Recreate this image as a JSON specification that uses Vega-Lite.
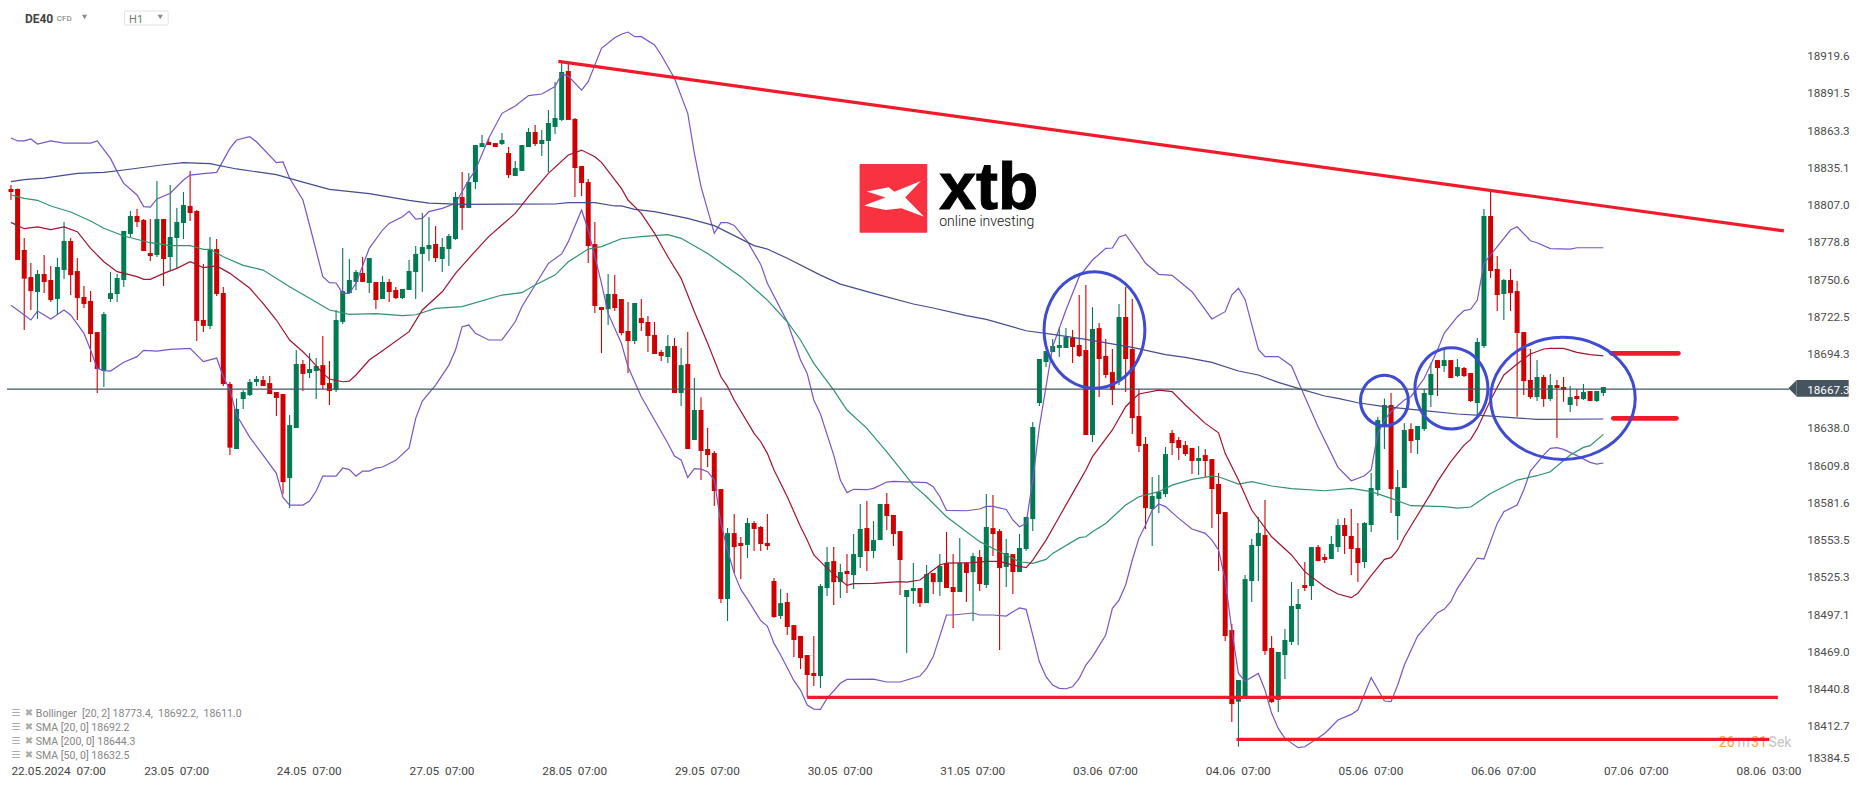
{
"$schema":"https://vega.github.io/schema/vega-lite/v6.json",
"width":1800,"height":765,"padding":{"left":0,"top":0,"right":66,"bottom":22},"autosize":{"type":"none"},"background":"white",
"config":{"view":{"stroke":null},"font":"Roboto"},
"datasets":{
"candles":[
{"i":0,"o":18818.7,"h":18821.8,"l":18810.4,"c":18816.5},{"i":1,"o":18818.7,"h":18819.2,"l":18765.0,"c":18765.0},{"i":2,"o":18772.6,"h":18781.7,"l":18712.0,"c":18750.9},{"i":3,"o":18752.1,"h":18762.7,"l":18727.2,"c":18741.5},{"i":4,"o":18740.8,"h":18757.4,"l":18720.4,"c":18754.4},{"i":5,"o":18754.4,"h":18768.8,"l":18740.0,"c":18748.4},{"i":6,"o":18749.9,"h":18760.5,"l":18733.2,"c":18734.7},{"i":7,"o":18735.5,"h":18766.5,"l":18723.4,"c":18759.7},{"i":8,"o":18757.4,"h":18793.8,"l":18750.6,"c":18779.4},{"i":9,"o":18779.4,"h":18781.7,"l":18738.5,"c":18753.6},
{"i":10,"o":18756.7,"h":18766.5,"l":18719.6,"c":18736.2},{"i":11,"o":18737.0,"h":18745.3,"l":18728.7,"c":18731.7},{"i":12,"o":18734.0,"h":18741.5,"l":18687.8,"c":18709.0},{"i":13,"o":18710.5,"h":18710.5,"l":18664.4,"c":18682.5},{"i":14,"o":18681.0,"h":18725.6,"l":18668.9,"c":18724.1},{"i":15,"o":18735.5,"h":18755.9,"l":18733.2,"c":18740.0},{"i":16,"o":18739.3,"h":18754.4,"l":18733.2,"c":18751.4},{"i":17,"o":18749.9,"h":18787.0,"l":18744.6,"c":18787.0},{"i":18,"o":18784.7,"h":18802.1,"l":18782.4,"c":18798.3},{"i":19,"o":18798.3,"h":18803.6,"l":18790.0,"c":18793.8},
{"i":20,"o":18795.3,"h":18796.0,"l":18771.8,"c":18771.8},{"i":21,"o":18770.3,"h":18796.0,"l":18764.3,"c":18768.0},{"i":22,"o":18768.8,"h":18824.8,"l":18767.3,"c":18796.0},{"i":23,"o":18796.0,"h":18796.0,"l":18745.3,"c":18765.8},{"i":24,"o":18767.3,"h":18821.8,"l":18756.7,"c":18782.4},{"i":25,"o":18781.7,"h":18804.4,"l":18758.9,"c":18793.8},{"i":26,"o":18793.0,"h":18816.5,"l":18780.9,"c":18806.6},{"i":27,"o":18805.9,"h":18832.4,"l":18794.5,"c":18800.6},{"i":28,"o":18802.1,"h":18802.8,"l":18703.7,"c":18718.9},{"i":29,"o":18719.6,"h":18762.0,"l":18710.5,"c":18715.1},
{"i":30,"o":18715.1,"h":18782.4,"l":18712.8,"c":18773.3},{"i":31,"o":18773.3,"h":18780.9,"l":18737.8,"c":18739.3},{"i":32,"o":18740.0,"h":18744.6,"l":18669.7,"c":18671.2},{"i":33,"o":18671.2,"h":18672.7,"l":18617.4,"c":18623.0},{"i":34,"o":18622.0,"h":18660.3,"l":18622.0,"c":18652.3},{"i":35,"o":18659.8,"h":18666.6,"l":18652.3,"c":18665.1},{"i":36,"o":18662.8,"h":18675.0,"l":18662.1,"c":18672.7},{"i":37,"o":18672.7,"h":18677.2,"l":18669.7,"c":18675.0},{"i":38,"o":18674.2,"h":18677.2,"l":18669.7,"c":18669.7},{"i":39,"o":18671.9,"h":18677.2,"l":18663.6,"c":18663.6},
{"i":40,"o":18665.1,"h":18665.1,"l":18647.0,"c":18660.6},{"i":41,"o":18663.6,"h":18663.6,"l":18587.9,"c":18597.0},{"i":42,"o":18600.0,"h":18647.7,"l":18577.3,"c":18640.1},{"i":43,"o":18637.9,"h":18696.9,"l":18637.9,"c":18686.3},{"i":44,"o":18686.3,"h":18689.3,"l":18665.9,"c":18678.8},{"i":45,"o":18679.5,"h":18694.6,"l":18675.7,"c":18682.5},{"i":46,"o":18681.0,"h":18690.8,"l":18659.8,"c":18684.8},{"i":47,"o":18685.5,"h":18707.5,"l":18667.4,"c":18670.4},{"i":48,"o":18671.9,"h":18688.6,"l":18655.3,"c":18665.9},{"i":49,"o":18666.6,"h":18727.2,"l":18665.1,"c":18719.6},
{"i":50,"o":18718.1,"h":18774.1,"l":18716.6,"c":18741.5},{"i":51,"o":18740.0,"h":18765.8,"l":18739.3,"c":18749.9},{"i":52,"o":18748.4,"h":18757.4,"l":18742.3,"c":18755.9},{"i":53,"o":18755.2,"h":18767.3,"l":18748.4,"c":18748.4},{"i":54,"o":18747.6,"h":18766.5,"l":18740.0,"c":18766.5},{"i":55,"o":18748.4,"h":18748.4,"l":18727.9,"c":18734.7},{"i":56,"o":18735.5,"h":18752.9,"l":18735.5,"c":18748.4},{"i":57,"o":18748.4,"h":18750.6,"l":18733.2,"c":18740.8},{"i":58,"o":18742.3,"h":18744.6,"l":18735.5,"c":18736.2},{"i":59,"o":18736.2,"h":18743.1,"l":18735.5,"c":18743.1},
{"i":60,"o":18742.3,"h":18765.0,"l":18742.3,"c":18756.7},{"i":61,"o":18755.9,"h":18775.6,"l":18735.5,"c":18769.6},{"i":62,"o":18769.6,"h":18800.6,"l":18740.8,"c":18774.9},{"i":63,"o":18773.3,"h":18797.5,"l":18764.3,"c":18776.4},{"i":64,"o":18777.1,"h":18790.7,"l":18763.5,"c":18766.5},{"i":65,"o":18765.8,"h":18781.7,"l":18755.9,"c":18774.9},{"i":66,"o":18773.3,"h":18784.7,"l":18760.5,"c":18783.2},{"i":67,"o":18780.9,"h":18816.5,"l":18780.1,"c":18812.7},{"i":68,"o":18812.7,"h":18831.6,"l":18787.7,"c":18804.4},{"i":69,"o":18804.4,"h":18830.8,"l":18804.4,"c":18824.0},
{"i":70,"o":18824.0,"h":18852.0,"l":18818.7,"c":18852.0},{"i":71,"o":18850.5,"h":18859.6,"l":18850.5,"c":18853.5},{"i":72,"o":18854.3,"h":18857.3,"l":18852.0,"c":18852.0},{"i":73,"o":18853.5,"h":18853.5,"l":18850.5,"c":18850.5},{"i":74,"o":18852.8,"h":18861.1,"l":18852.0,"c":18855.8},{"i":75,"o":18846.0,"h":18850.5,"l":18827.0,"c":18829.3},{"i":76,"o":18828.6,"h":18839.9,"l":18828.6,"c":18834.6},{"i":77,"o":18832.4,"h":18852.0,"l":18832.4,"c":18852.0},{"i":78,"o":18850.5,"h":18864.9,"l":18850.5,"c":18861.9},{"i":79,"o":18861.9,"h":18867.2,"l":18851.3,"c":18852.8},
{"i":80,"o":18852.8,"h":18863.4,"l":18843.7,"c":18855.8},{"i":81,"o":18855.1,"h":18878.5,"l":18831.6,"c":18868.7},{"i":82,"o":18865.7,"h":18899.7,"l":18860.4,"c":18872.5},{"i":83,"o":18871.0,"h":18914.8,"l":18870.2,"c":18907.3},{"i":84,"o":18908.0,"h":18913.3,"l":18871.0,"c":18871.0},{"i":85,"o":18871.7,"h":18872.5,"l":18812.7,"c":18834.6},{"i":86,"o":18836.1,"h":18836.1,"l":18813.4,"c":18823.3},{"i":87,"o":18824.0,"h":18826.3,"l":18762.7,"c":18775.6},{"i":88,"o":18777.1,"h":18793.8,"l":18724.9,"c":18730.2},{"i":89,"o":18729.4,"h":18729.4,"l":18694.6,"c":18727.2},
{"i":90,"o":18727.9,"h":18754.4,"l":18715.8,"c":18739.3},{"i":91,"o":18739.3,"h":18753.6,"l":18726.4,"c":18728.7},{"i":92,"o":18735.5,"h":18735.5,"l":18708.0,"c":18709.8},{"i":93,"o":18711.3,"h":18733.2,"l":18679.5,"c":18703.7},{"i":94,"o":18703.7,"h":18732.5,"l":18701.4,"c":18732.5},{"i":95,"o":18721.1,"h":18735.5,"l":18711.3,"c":18717.3},{"i":96,"o":18718.1,"h":18722.6,"l":18695.4,"c":18707.5},{"i":97,"o":18708.3,"h":18718.1,"l":18693.9,"c":18693.9},{"i":98,"o":18695.4,"h":18696.9,"l":18688.6,"c":18692.4},{"i":99,"o":18691.6,"h":18708.3,"l":18687.1,"c":18699.9},
{"i":100,"o":18699.9,"h":18706.0,"l":18664.4,"c":18664.4},{"i":101,"o":18664.4,"h":18698.4,"l":18654.5,"c":18685.5},{"i":102,"o":18686.3,"h":18710.5,"l":18622.0,"c":18622.0},{"i":103,"o":18628.8,"h":18675.7,"l":18628.8,"c":18651.5},{"i":104,"o":18651.5,"h":18661.1,"l":18598.5,"c":18620.5},{"i":105,"o":18622.0,"h":18637.9,"l":18608.4,"c":18617.4},{"i":106,"o":18619.0,"h":18620.5,"l":18578.9,"c":18590.2},{"i":107,"o":18591.7,"h":18591.7,"l":18505.4,"c":18508.5},{"i":108,"o":18508.5,"h":18562.2,"l":18491.8,"c":18558.4},{"i":109,"o":18558.4,"h":18572.8,"l":18528.2,"c":18547.8},
{"i":110,"o":18550.9,"h":18555.4,"l":18523.6,"c":18548.6},{"i":111,"o":18549.4,"h":18569.8,"l":18539.5,"c":18566.0},{"i":112,"o":18566.0,"h":18567.5,"l":18544.8,"c":18561.5},{"i":113,"o":18563.0,"h":18563.7,"l":18544.8,"c":18550.1},{"i":114,"o":18550.9,"h":18572.8,"l":18545.6,"c":18548.6},{"i":115,"o":18522.1,"h":18524.4,"l":18494.1,"c":18494.9},{"i":116,"o":18495.6,"h":18516.0,"l":18493.3,"c":18505.4},{"i":117,"o":18506.2,"h":18513.0,"l":18481.2,"c":18487.3},{"i":118,"o":18488.8,"h":18488.8,"l":18464.6,"c":18477.5},{"i":119,"o":18480.5,"h":18480.5,"l":18455.5,"c":18463.8},
{"i":120,"o":18466.1,"h":18466.1,"l":18434.3,"c":18451.0},{"i":121,"o":18452.5,"h":18480.5,"l":18442.6,"c":18450.2},{"i":122,"o":18450.2,"h":18519.8,"l":18441.1,"c":18518.3},{"i":123,"o":18516.8,"h":18547.8,"l":18510.8,"c":18536.5},{"i":124,"o":18537.2,"h":18547.8,"l":18504.0,"c":18521.3},{"i":125,"o":18521.3,"h":18535.0,"l":18509.2,"c":18528.9},{"i":126,"o":18529.7,"h":18542.5,"l":18513.0,"c":18527.4},{"i":127,"o":18526.6,"h":18557.7,"l":18516.0,"c":18542.5},{"i":128,"o":18540.3,"h":18580.4,"l":18531.9,"c":18561.5},{"i":129,"o":18562.2,"h":18582.6,"l":18529.7,"c":18544.8},
{"i":130,"o":18544.8,"h":18567.5,"l":18539.5,"c":18553.1},{"i":131,"o":18553.1,"h":18580.4,"l":18553.1,"c":18580.4},{"i":132,"o":18580.4,"h":18588.7,"l":18560.7,"c":18571.3},{"i":133,"o":18572.1,"h":18572.1,"l":18548.6,"c":18557.7},{"i":134,"o":18559.9,"h":18559.9,"l":18511.5,"c":18538.0},{"i":135,"o":18510.0,"h":18515.3,"l":18467.6,"c":18515.3},{"i":136,"o":18514.5,"h":18535.7,"l":18504.7,"c":18516.8},{"i":137,"o":18516.8,"h":18516.8,"l":18502.4,"c":18505.4},{"i":138,"o":18505.4,"h":18534.2,"l":18505.4,"c":18527.4},{"i":139,"o":18528.2,"h":18528.2,"l":18512.3,"c":18521.3},
{"i":140,"o":18521.3,"h":18542.5,"l":18510.8,"c":18533.5},{"i":141,"o":18535.7,"h":18559.2,"l":18516.8,"c":18516.8},{"i":142,"o":18517.6,"h":18542.5,"l":18486.5,"c":18513.8},{"i":143,"o":18513.8,"h":18554.6,"l":18513.8,"c":18535.7},{"i":144,"o":18535.7,"h":18536.5,"l":18506.2,"c":18528.2},{"i":145,"o":18528.9,"h":18543.3,"l":18491.8,"c":18541.0},{"i":146,"o":18540.3,"h":18545.6,"l":18514.5,"c":18519.8},{"i":147,"o":18519.1,"h":18587.9,"l":18516.8,"c":18563.0},{"i":148,"o":18562.2,"h":18587.2,"l":18541.0,"c":18557.7},{"i":149,"o":18559.9,"h":18561.5,"l":18469.9,"c":18531.9},
{"i":150,"o":18532.7,"h":18553.9,"l":18517.6,"c":18543.3},{"i":151,"o":18542.5,"h":18542.5,"l":18512.3,"c":18528.9},{"i":152,"o":18528.9,"h":18557.7,"l":18528.9,"c":18547.1},{"i":153,"o":18546.3,"h":18570.5,"l":18544.8,"c":18570.5},{"i":154,"o":18569.0,"h":18642.4,"l":18559.9,"c":18638.6},{"i":155,"o":18656.8,"h":18690.1,"l":18654.5,"c":18690.1},{"i":156,"o":18687.8,"h":18696.1,"l":18684.0,"c":18696.1},{"i":157,"o":18695.4,"h":18705.2,"l":18695.4,"c":18699.9},{"i":158,"o":18698.4,"h":18714.3,"l":18691.6,"c":18700.7},{"i":159,"o":18698.4,"h":18713.5,"l":18698.4,"c":18706.7},
{"i":160,"o":18706.0,"h":18712.0,"l":18687.1,"c":18699.2},{"i":161,"o":18700.7,"h":18738.5,"l":18691.6,"c":18692.4},{"i":162,"o":18696.9,"h":18746.1,"l":18632.6,"c":18632.6},{"i":163,"o":18632.6,"h":18729.4,"l":18627.3,"c":18712.8},{"i":164,"o":18713.5,"h":18717.3,"l":18661.3,"c":18690.1},{"i":165,"o":18692.4,"h":18705.2,"l":18675.7,"c":18678.0},{"i":166,"o":18680.2,"h":18697.7,"l":18655.3,"c":18666.6},{"i":167,"o":18674.2,"h":18731.7,"l":18670.4,"c":18721.9},{"i":168,"o":18721.9,"h":18744.6,"l":18665.1,"c":18690.1},{"i":169,"o":18697.7,"h":18735.5,"l":18633.3,"c":18645.4},
{"i":170,"o":18647.0,"h":18667.4,"l":18619.7,"c":18624.3},{"i":171,"o":18625.8,"h":18631.1,"l":18561.5,"c":18577.3},{"i":172,"o":18576.6,"h":18600.8,"l":18548.6,"c":18586.4},{"i":173,"o":18584.2,"h":18602.3,"l":18573.5,"c":18589.5},{"i":174,"o":18587.9,"h":18623.5,"l":18585.7,"c":18618.2},{"i":175,"o":18634.1,"h":18636.4,"l":18617.4,"c":18626.5},{"i":176,"o":18628.8,"h":18631.1,"l":18613.7,"c":18622.8},{"i":177,"o":18625.0,"h":18628.0,"l":18616.7,"c":18618.2},{"i":178,"o":18622.8,"h":18622.8,"l":18603.1,"c":18612.9},{"i":179,"o":18612.9,"h":18624.3,"l":18602.3,"c":18615.2},
{"i":180,"o":18617.4,"h":18622.0,"l":18600.8,"c":18612.9},{"i":181,"o":18614.4,"h":18614.4,"l":18562.2,"c":18591.7},{"i":182,"o":18595.5,"h":18603.8,"l":18529.7,"c":18572.8},{"i":183,"o":18574.3,"h":18574.3,"l":18476.7,"c":18480.5},{"i":184,"o":18485.0,"h":18489.6,"l":18415.4,"c":18429.0},{"i":185,"o":18430.8,"h":18447.2,"l":18396.7,"c":18447.2},{"i":186,"o":18434.6,"h":18526.6,"l":18433.3,"c":18523.6},{"i":187,"o":18522.1,"h":18553.9,"l":18506.2,"c":18549.4},{"i":188,"o":18548.6,"h":18570.5,"l":18522.1,"c":18558.4},{"i":189,"o":18556.9,"h":18583.4,"l":18466.1,"c":18469.1},
{"i":190,"o":18471.4,"h":18480.5,"l":18429.8,"c":18430.5},{"i":191,"o":18432.1,"h":18468.4,"l":18423.0,"c":18468.4},{"i":192,"o":18466.1,"h":18485.8,"l":18447.9,"c":18477.5},{"i":193,"o":18476.0,"h":18521.3,"l":18473.7,"c":18503.2},{"i":194,"o":18500.9,"h":18516.0,"l":18473.7,"c":18504.7},{"i":195,"o":18519.1,"h":18536.5,"l":18514.5,"c":18516.8},{"i":196,"o":18518.3,"h":18547.8,"l":18507.7,"c":18547.8},{"i":197,"o":18547.8,"h":18549.4,"l":18537.2,"c":18537.2},{"i":198,"o":18540.3,"h":18542.5,"l":18535.7,"c":18538.0},{"i":199,"o":18538.8,"h":18556.2,"l":18538.8,"c":18550.1},
{"i":200,"o":18547.8,"h":18569.0,"l":18544.0,"c":18564.5},{"i":201,"o":18564.5,"h":18569.8,"l":18542.5,"c":18556.2},{"i":202,"o":18556.2,"h":18576.6,"l":18526.6,"c":18546.3},{"i":203,"o":18547.1,"h":18566.0,"l":18521.3,"c":18535.7},{"i":204,"o":18536.5,"h":18566.7,"l":18531.9,"c":18566.0},{"i":205,"o":18564.5,"h":18603.8,"l":18559.2,"c":18592.5},{"i":206,"o":18591.0,"h":18646.5,"l":18586.4,"c":18643.9},{"i":207,"o":18638.9,"h":18660.3,"l":18622.0,"c":18655.3},{"i":208,"o":18655.3,"h":18664.4,"l":18573.5,"c":18591.7},{"i":209,"o":18571.3,"h":18606.1,"l":18553.1,"c":18593.2},
{"i":210,"o":18592.5,"h":18641.4,"l":18592.5,"c":18636.4},{"i":211,"o":18637.1,"h":18641.4,"l":18619.0,"c":18628.0},{"i":212,"o":18628.8,"h":18639.4,"l":18618.2,"c":18639.4},{"i":213,"o":18637.1,"h":18667.4,"l":18635.6,"c":18664.4},{"i":214,"o":18662.8,"h":18687.1,"l":18653.8,"c":18678.8},{"i":215,"o":18689.3,"h":18689.3,"l":18662.1,"c":18683.3},{"i":216,"o":18684.8,"h":18696.9,"l":18680.2,"c":18689.3},{"i":217,"o":18689.3,"h":18689.3,"l":18675.7,"c":18675.7},{"i":218,"o":18677.2,"h":18690.1,"l":18676.5,"c":18684.0},{"i":219,"o":18683.3,"h":18684.0,"l":18676.5,"c":18677.2},
{"i":220,"o":18679.5,"h":18679.5,"l":18657.5,"c":18658.3},{"i":221,"o":18656.8,"h":18706.0,"l":18647.7,"c":18703.0},{"i":222,"o":18699.9,"h":18803.6,"l":18698.4,"c":18798.3},{"i":223,"o":18798.3,"h":18818.7,"l":18751.4,"c":18756.7},{"i":224,"o":18758.2,"h":18768.0,"l":18726.4,"c":18738.5},{"i":225,"o":18739.3,"h":18750.6,"l":18719.6,"c":18749.9},{"i":226,"o":18749.9,"h":18758.2,"l":18726.4,"c":18740.0},{"i":227,"o":18741.5,"h":18749.1,"l":18646.5,"c":18709.8},{"i":228,"o":18710.5,"h":18710.5,"l":18662.8,"c":18673.4},{"i":229,"o":18674.2,"h":18697.7,"l":18659.8,"c":18661.3},
{"i":230,"o":18661.3,"h":18689.3,"l":18658.3,"c":18676.5},{"i":231,"o":18676.5,"h":18678.0,"l":18654.0,"c":18659.8},{"i":232,"o":18659.8,"h":18678.8,"l":18658.3,"c":18670.4},{"i":233,"o":18670.4,"h":18674.2,"l":18630.3,"c":18668.2},{"i":234,"o":18668.9,"h":18676.5,"l":18657.8,"c":18666.6},{"i":235,"o":18655.3,"h":18669.7,"l":18650.0,"c":18661.3},{"i":236,"o":18662.1,"h":18667.4,"l":18654.5,"c":18659.8},{"i":237,"o":18659.8,"h":18671.2,"l":18659.1,"c":18665.1},{"i":238,"o":18665.9,"h":18665.9,"l":18658.3,"c":18658.3},{"i":239,"o":18658.3,"h":18665.9,"l":18657.5,"c":18665.9},
{"i":240,"o":18664.4,"h":18668.9,"l":18662.1,"c":18668.9}
],
"lines":[
{"s":"bbU","i":0,"p":18857.3},{"s":"bbU","i":1,"p":18855.1},{"s":"bbU","i":2,"p":18855.1},{"s":"bbU","i":3,"p":18856.6},{"s":"bbU","i":4,"p":18852.8},{"s":"bbU","i":6,"p":18855.1},{"s":"bbU","i":8,"p":18853.5},{"s":"bbU","i":12,"p":18853.5},{"s":"bbU","i":13,"p":18855.1},{"s":"bbU","i":15,"p":18841.9},{"s":"bbU","i":16,"p":18831.9},{"s":"bbU","i":17,"p":18823.0},{"s":"bbU","i":19,"p":18814.2},{"s":"bbU","i":20,"p":18805.4},{"s":"bbU","i":21,"p":18805.1},{"s":"bbU","i":22,"p":18811.2},{"s":"bbU","i":24,"p":18815.5},{"s":"bbU","i":26,"p":18825.5},{"s":"bbU","i":27,"p":18829.3},{"s":"bbU","i":29,"p":18830.3},{"s":"bbU","i":31,"p":18831.3},{"s":"bbU","i":33,"p":18849.5},{"s":"bbU","i":34,"p":18855.8},{"s":"bbU","i":36,"p":18858.3},{"s":"bbU","i":37,"p":18854.5},{"s":"bbU","i":40,"p":18838.7},{"s":"bbU","i":41,"p":18839.2},{"s":"bbU","i":42,"p":18826.8},{"s":"bbU","i":44,"p":18810.4},{"s":"bbU","i":45,"p":18791.5},{"s":"bbU","i":47,"p":18752.4},{"s":"bbU","i":48,"p":18747.9},{"s":"bbU","i":49,"p":18747.6},{"s":"bbU","i":50,"p":18739.8},{"s":"bbU","i":51,"p":18739.8},{"s":"bbU","i":52,"p":18747.4},{"s":"bbU","i":54,"p":18773.8},{"s":"bbU","i":56,"p":18787.7},{"s":"bbU","i":57,"p":18792.7},{"s":"bbU","i":59,"p":18797.8},{"s":"bbU","i":60,"p":18801.8},{"s":"bbU","i":61,"p":18796.0},{"s":"bbU","i":62,"p":18796.5},{"s":"bbU","i":63,"p":18801.6},{"s":"bbU","i":65,"p":18804.1},{"s":"bbU","i":67,"p":18807.9},{"s":"bbU","i":69,"p":18825.5},{"s":"bbU","i":70,"p":18833.1},{"s":"bbU","i":72,"p":18857.1},{"s":"bbU","i":74,"p":18876.0},{"s":"bbU","i":76,"p":18881.5},{"s":"bbU","i":78,"p":18889.4},{"s":"bbU","i":80,"p":18890.6},{"s":"bbU","i":82,"p":18896.2},{"s":"bbU","i":83,"p":18905.8},{"s":"bbU","i":84,"p":18904.2},{"s":"bbU","i":86,"p":18893.6},{"s":"bbU","i":87,"p":18900.0},{"s":"bbU","i":89,"p":18925.2},{"s":"bbU","i":91,"p":18933.2},{"s":"bbU","i":92,"p":18935.8},{"s":"bbU","i":93,"p":18937.5},{"s":"bbU","i":94,"p":18934.0},{"s":"bbU","i":95,"p":18934.0},{"s":"bbU","i":97,"p":18927.7},{"s":"bbU","i":98,"p":18920.1},{"s":"bbU","i":100,"p":18902.5},{"s":"bbU","i":102,"p":18876.0},{"s":"bbU","i":103,"p":18845.7},{"s":"bbU","i":104,"p":18820.5},{"s":"bbU","i":106,"p":18785.2},{"s":"bbU","i":107,"p":18793.3},{"s":"bbU","i":108,"p":18793.3},{"s":"bbU","i":109,"p":18791.2},{"s":"bbU","i":111,"p":18778.9},{"s":"bbU","i":113,"p":18761.7},{"s":"bbU","i":114,"p":18747.4},{"s":"bbU","i":117,"p":18718.3},{"s":"bbU","i":119,"p":18689.3},{"s":"bbU","i":120,"p":18679.2},{"s":"bbU","i":121,"p":18659.1},{"s":"bbU","i":122,"p":18648.5},{"s":"bbU","i":124,"p":18617.4},{"s":"bbU","i":125,"p":18598.5},{"s":"bbU","i":126,"p":18589.0},{"s":"bbU","i":127,"p":18591.5},{"s":"bbU","i":129,"p":18591.2},{"s":"bbU","i":130,"p":18592.2},{"s":"bbU","i":132,"p":18597.0},{"s":"bbU","i":133,"p":18597.5},{"s":"bbU","i":138,"p":18596.5},{"s":"bbU","i":139,"p":18593.5},{"s":"bbU","i":140,"p":18585.9},{"s":"bbU","i":141,"p":18575.6},{"s":"bbU","i":144,"p":18575.3},{"s":"bbU","i":146,"p":18576.6},{"s":"bbU","i":147,"p":18578.6},{"s":"bbU","i":148,"p":18578.6},{"s":"bbU","i":150,"p":18576.3},{"s":"bbU","i":151,"p":18568.3},{"s":"bbU","i":152,"p":18563.2},{"s":"bbU","i":153,"p":18565.7},{"s":"bbU","i":154,"p":18598.5},{"s":"bbU","i":155,"p":18638.9},{"s":"bbU","i":157,"p":18699.4},{"s":"bbU","i":159,"p":18727.2},{"s":"bbU","i":161,"p":18752.4},{"s":"bbU","i":163,"p":18765.0},{"s":"bbU","i":165,"p":18773.8},{"s":"bbU","i":166,"p":18774.1},{"s":"bbU","i":167,"p":18782.2},{"s":"bbU","i":168,"p":18784.2},{"s":"bbU","i":170,"p":18770.0},{"s":"bbU","i":171,"p":18762.5},{"s":"bbU","i":173,"p":18754.2},{"s":"bbU","i":175,"p":18753.4},{"s":"bbU","i":178,"p":18741.0},{"s":"bbU","i":181,"p":18720.4},{"s":"bbU","i":183,"p":18725.9},{"s":"bbU","i":184,"p":18738.5},{"s":"bbU","i":185,"p":18743.6},{"s":"bbU","i":186,"p":18735.2},{"s":"bbU","i":188,"p":18697.4},{"s":"bbU","i":189,"p":18691.9},{"s":"bbU","i":191,"p":18691.9},{"s":"bbU","i":193,"p":18684.8},{"s":"bbU","i":195,"p":18661.6},{"s":"bbU","i":197,"p":18638.9},{"s":"bbU","i":200,"p":18608.1},{"s":"bbU","i":202,"p":18598.0},{"s":"bbU","i":204,"p":18601.8},{"s":"bbU","i":205,"p":18606.1},{"s":"bbU","i":206,"p":18633.8},{"s":"bbU","i":207,"p":18643.9},{"s":"bbU","i":208,"p":18650.2},{"s":"bbU","i":210,"p":18659.1},{"s":"bbU","i":211,"p":18661.6},{"s":"bbU","i":213,"p":18675.5},{"s":"bbU","i":215,"p":18696.9},{"s":"bbU","i":216,"p":18709.5},{"s":"bbU","i":218,"p":18722.1},{"s":"bbU","i":219,"p":18726.7},{"s":"bbU","i":220,"p":18727.7},{"s":"bbU","i":221,"p":18734.7},{"s":"bbU","i":222,"p":18762.5},{"s":"bbU","i":223,"p":18768.8},{"s":"bbU","i":224,"p":18775.1},{"s":"bbU","i":226,"p":18787.7},{"s":"bbU","i":227,"p":18790.2},{"s":"bbU","i":229,"p":18779.6},{"s":"bbU","i":230,"p":18778.1},{"s":"bbU","i":232,"p":18773.6},{"s":"bbU","i":235,"p":18773.3},{"s":"bbU","i":236,"p":18774.3},{"s":"bbU","i":240,"p":18774.3},
{"s":"bbL","i":0,"p":18730.7},{"s":"bbL","i":1,"p":18727.2},{"s":"bbL","i":3,"p":18719.6},{"s":"bbL","i":4,"p":18726.4},{"s":"bbL","i":6,"p":18720.4},{"s":"bbL","i":8,"p":18727.2},{"s":"bbL","i":9,"p":18723.4},{"s":"bbL","i":11,"p":18709.5},{"s":"bbL","i":12,"p":18696.9},{"s":"bbL","i":13,"p":18683.0},{"s":"bbL","i":14,"p":18681.3},{"s":"bbL","i":15,"p":18681.0},{"s":"bbL","i":17,"p":18687.6},{"s":"bbL","i":19,"p":18691.9},{"s":"bbL","i":20,"p":18696.6},{"s":"bbL","i":22,"p":18696.1},{"s":"bbL","i":24,"p":18697.4},{"s":"bbL","i":27,"p":18698.2},{"s":"bbL","i":29,"p":18688.1},{"s":"bbL","i":31,"p":18690.8},{"s":"bbL","i":32,"p":18676.7},{"s":"bbL","i":33,"p":18666.6},{"s":"bbL","i":34,"p":18647.7},{"s":"bbL","i":36,"p":18630.8},{"s":"bbL","i":38,"p":18617.4},{"s":"bbL","i":40,"p":18603.6},{"s":"bbL","i":41,"p":18585.4},{"s":"bbL","i":42,"p":18579.6},{"s":"bbL","i":44,"p":18579.6},{"s":"bbL","i":45,"p":18582.6},{"s":"bbL","i":46,"p":18590.2},{"s":"bbL","i":47,"p":18601.5},{"s":"bbL","i":49,"p":18601.5},{"s":"bbL","i":50,"p":18607.6},{"s":"bbL","i":51,"p":18606.4},{"s":"bbL","i":52,"p":18601.5},{"s":"bbL","i":53,"p":18605.3},{"s":"bbL","i":54,"p":18605.3},{"s":"bbL","i":55,"p":18607.6},{"s":"bbL","i":56,"p":18608.4},{"s":"bbL","i":58,"p":18613.4},{"s":"bbL","i":60,"p":18622.8},{"s":"bbL","i":61,"p":18645.2},{"s":"bbL","i":62,"p":18658.3},{"s":"bbL","i":64,"p":18670.4},{"s":"bbL","i":66,"p":18685.5},{"s":"bbL","i":67,"p":18696.9},{"s":"bbL","i":68,"p":18714.6},{"s":"bbL","i":69,"p":18715.8},{"s":"bbL","i":70,"p":18709.5},{"s":"bbL","i":72,"p":18704.5},{"s":"bbL","i":74,"p":18704.5},{"s":"bbL","i":76,"p":18718.3},{"s":"bbL","i":77,"p":18729.7},{"s":"bbL","i":79,"p":18746.1},{"s":"bbL","i":81,"p":18762.5},{"s":"bbL","i":83,"p":18769.6},{"s":"bbL","i":84,"p":18778.9},{"s":"bbL","i":86,"p":18802.8},{"s":"bbL","i":87,"p":18787.7},{"s":"bbL","i":88,"p":18767.5},{"s":"bbL","i":89,"p":18747.4},{"s":"bbL","i":90,"p":18724.6},{"s":"bbL","i":92,"p":18702.0},{"s":"bbL","i":93,"p":18684.3},{"s":"bbL","i":95,"p":18661.6},{"s":"bbL","i":97,"p":18643.9},{"s":"bbL","i":99,"p":18626.3},{"s":"bbL","i":100,"p":18616.7},{"s":"bbL","i":101,"p":18613.7},{"s":"bbL","i":102,"p":18600.5},{"s":"bbL","i":103,"p":18607.1},{"s":"bbL","i":104,"p":18606.8},{"s":"bbL","i":105,"p":18604.8},{"s":"bbL","i":106,"p":18598.5},{"s":"bbL","i":107,"p":18565.7},{"s":"bbL","i":108,"p":18545.6},{"s":"bbL","i":109,"p":18527.9},{"s":"bbL","i":110,"p":18515.8},{"s":"bbL","i":111,"p":18508.2},{"s":"bbL","i":113,"p":18492.1},{"s":"bbL","i":114,"p":18488.0},{"s":"bbL","i":115,"p":18474.9},{"s":"bbL","i":116,"p":18466.1},{"s":"bbL","i":118,"p":18446.7},{"s":"bbL","i":119,"p":18439.6},{"s":"bbL","i":120,"p":18428.3},{"s":"bbL","i":121,"p":18425.2},{"s":"bbL","i":122,"p":18425.0},{"s":"bbL","i":123,"p":18433.3},{"s":"bbL","i":125,"p":18444.7},{"s":"bbL","i":126,"p":18447.7},{"s":"bbL","i":130,"p":18447.9},{"s":"bbL","i":132,"p":18445.7},{"s":"bbL","i":134,"p":18445.7},{"s":"bbL","i":137,"p":18450.2},{"s":"bbL","i":138,"p":18456.0},{"s":"bbL","i":139,"p":18464.9},{"s":"bbL","i":141,"p":18496.4},{"s":"bbL","i":142,"p":18496.4},{"s":"bbL","i":145,"p":18497.9},{"s":"bbL","i":146,"p":18496.4},{"s":"bbL","i":148,"p":18496.4},{"s":"bbL","i":150,"p":18495.6},{"s":"bbL","i":151,"p":18498.9},{"s":"bbL","i":152,"p":18501.7},{"s":"bbL","i":153,"p":18500.7},{"s":"bbL","i":154,"p":18481.2},{"s":"bbL","i":155,"p":18461.0},{"s":"bbL","i":156,"p":18449.7},{"s":"bbL","i":157,"p":18443.4},{"s":"bbL","i":158,"p":18440.9},{"s":"bbL","i":159,"p":18440.6},{"s":"bbL","i":160,"p":18442.1},{"s":"bbL","i":161,"p":18448.4},{"s":"bbL","i":162,"p":18458.5},{"s":"bbL","i":163,"p":18464.9},{"s":"bbL","i":165,"p":18481.2},{"s":"bbL","i":166,"p":18501.4},{"s":"bbL","i":167,"p":18507.7},{"s":"bbL","i":168,"p":18519.1},{"s":"bbL","i":169,"p":18538.0},{"s":"bbL","i":170,"p":18554.4},{"s":"bbL","i":171,"p":18564.5},{"s":"bbL","i":172,"p":18575.8},{"s":"bbL","i":173,"p":18580.4},{"s":"bbL","i":174,"p":18578.4},{"s":"bbL","i":176,"p":18569.5},{"s":"bbL","i":178,"p":18561.5},{"s":"bbL","i":180,"p":18558.2},{"s":"bbL","i":181,"p":18553.1},{"s":"bbL","i":182,"p":18545.6},{"s":"bbL","i":183,"p":18522.9},{"s":"bbL","i":184,"p":18485.0},{"s":"bbL","i":185,"p":18452.2},{"s":"bbL","i":186,"p":18446.4},{"s":"bbL","i":188,"p":18452.2},{"s":"bbL","i":189,"p":18439.6},{"s":"bbL","i":190,"p":18422.0},{"s":"bbL","i":191,"p":18410.6},{"s":"bbL","i":192,"p":18403.0},{"s":"bbL","i":194,"p":18396.0},{"s":"bbL","i":195,"p":18396.7},{"s":"bbL","i":198,"p":18406.8},{"s":"bbL","i":200,"p":18416.9},{"s":"bbL","i":202,"p":18421.2},{"s":"bbL","i":203,"p":18424.5},{"s":"bbL","i":205,"p":18449.0},{"s":"bbL","i":207,"p":18431.3},{"s":"bbL","i":208,"p":18430.8},{"s":"bbL","i":209,"p":18443.4},{"s":"bbL","i":210,"p":18458.5},{"s":"bbL","i":212,"p":18480.5},{"s":"bbL","i":215,"p":18498.2},{"s":"bbL","i":216,"p":18500.7},{"s":"bbL","i":217,"p":18506.5},{"s":"bbL","i":218,"p":18516.6},{"s":"bbL","i":220,"p":18531.7},{"s":"bbL","i":221,"p":18539.5},{"s":"bbL","i":222,"p":18538.8},{"s":"bbL","i":224,"p":18565.7},{"s":"bbL","i":225,"p":18574.6},{"s":"bbL","i":227,"p":18579.6},{"s":"bbL","i":228,"p":18591.0},{"s":"bbL","i":229,"p":18605.3},{"s":"bbL","i":231,"p":18617.4},{"s":"bbL","i":232,"p":18622.5},{"s":"bbL","i":233,"p":18623.0},{"s":"bbL","i":234,"p":18621.7},{"s":"bbL","i":236,"p":18617.0},{"s":"bbL","i":238,"p":18611.9},{"s":"bbL","i":239,"p":18610.6},{"s":"bbL","i":240,"p":18611.4},
{"s":"sma200","i":0,"p":18824.3},{"s":"sma200","i":2,"p":18825.8},{"s":"sma200","i":5,"p":18827.0},{"s":"sma200","i":10,"p":18830.6},{"s":"sma200","i":14,"p":18831.3},{"s":"sma200","i":17,"p":18833.1},{"s":"sma200","i":23,"p":18837.1},{"s":"sma200","i":26,"p":18838.7},{"s":"sma200","i":30,"p":18837.9},{"s":"sma200","i":34,"p":18833.9},{"s":"sma200","i":40,"p":18829.6},{"s":"sma200","i":44,"p":18824.0},{"s":"sma200","i":48,"p":18818.5},{"s":"sma200","i":54,"p":18815.2},{"s":"sma200","i":60,"p":18810.2},{"s":"sma200","i":63,"p":18808.1},{"s":"sma200","i":68,"p":18807.1},{"s":"sma200","i":82,"p":18807.4},{"s":"sma200","i":84,"p":18808.4},{"s":"sma200","i":88,"p":18808.4},{"s":"sma200","i":91,"p":18805.9},{"s":"sma200","i":92,"p":18805.9},{"s":"sma200","i":94,"p":18803.3},{"s":"sma200","i":97,"p":18801.6},{"s":"sma200","i":102,"p":18796.5},{"s":"sma200","i":106,"p":18791.0},{"s":"sma200","i":112,"p":18775.9},{"s":"sma200","i":114,"p":18773.3},{"s":"sma200","i":117,"p":18766.3},{"s":"sma200","i":122,"p":18753.6},{"s":"sma200","i":125,"p":18746.8},{"s":"sma200","i":130,"p":18739.8},{"s":"sma200","i":136,"p":18731.7},{"s":"sma200","i":139,"p":18728.7},{"s":"sma200","i":144,"p":18722.9},{"s":"sma200","i":147,"p":18720.1},{"s":"sma200","i":153,"p":18711.5},{"s":"sma200","i":157,"p":18708.8},{"s":"sma200","i":162,"p":18705.0},{"s":"sma200","i":169,"p":18698.9},{"s":"sma200","i":174,"p":18693.4},{"s":"sma200","i":177,"p":18691.3},{"s":"sma200","i":181,"p":18687.6},{"s":"sma200","i":185,"p":18681.0},{"s":"sma200","i":188,"p":18678.0},{"s":"sma200","i":191,"p":18672.4},{"s":"sma200","i":194,"p":18667.9},{"s":"sma200","i":198,"p":18662.1},{"s":"sma200","i":200,"p":18660.3},{"s":"sma200","i":203,"p":18657.0},{"s":"sma200","i":207,"p":18654.0},{"s":"sma200","i":213,"p":18651.0},{"s":"sma200","i":218,"p":18648.5},{"s":"sma200","i":222,"p":18647.2},{"s":"sma200","i":230,"p":18644.4},{"s":"sma200","i":240,"p":18644.7},
{"s":"sma50","i":0,"p":18814.2},{"s":"sma50","i":2,"p":18811.7},{"s":"sma50","i":4,"p":18810.2},{"s":"sma50","i":6,"p":18805.9},{"s":"sma50","i":9,"p":18801.3},{"s":"sma50","i":12,"p":18794.5},{"s":"sma50","i":14,"p":18789.0},{"s":"sma50","i":17,"p":18783.2},{"s":"sma50","i":21,"p":18778.1},{"s":"sma50","i":24,"p":18775.9},{"s":"sma50","i":27,"p":18775.9},{"s":"sma50","i":29,"p":18773.1},{"s":"sma50","i":30,"p":18773.1},{"s":"sma50","i":32,"p":18767.5},{"s":"sma50","i":35,"p":18761.0},{"s":"sma50","i":38,"p":18757.4},{"s":"sma50","i":42,"p":18744.8},{"s":"sma50","i":45,"p":18736.0},{"s":"sma50","i":48,"p":18727.2},{"s":"sma50","i":51,"p":18723.9},{"s":"sma50","i":55,"p":18724.4},{"s":"sma50","i":59,"p":18722.9},{"s":"sma50","i":61,"p":18723.6},{"s":"sma50","i":64,"p":18728.4},{"s":"sma50","i":68,"p":18729.7},{"s":"sma50","i":74,"p":18738.5},{"s":"sma50","i":77,"p":18740.3},{"s":"sma50","i":79,"p":18746.1},{"s":"sma50","i":82,"p":18753.6},{"s":"sma50","i":84,"p":18763.7},{"s":"sma50","i":87,"p":18773.3},{"s":"sma50","i":89,"p":18775.1},{"s":"sma50","i":92,"p":18781.1},{"s":"sma50","i":95,"p":18782.7},{"s":"sma50","i":99,"p":18784.2},{"s":"sma50","i":101,"p":18781.4},{"s":"sma50","i":105,"p":18770.0},{"s":"sma50","i":110,"p":18752.4},{"s":"sma50","i":114,"p":18734.7},{"s":"sma50","i":117,"p":18718.3},{"s":"sma50","i":119,"p":18704.5},{"s":"sma50","i":121,"p":18686.8},{"s":"sma50","i":124,"p":18666.6},{"s":"sma50","i":126,"p":18651.5},{"s":"sma50","i":129,"p":18637.6},{"s":"sma50","i":132,"p":18619.9},{"s":"sma50","i":134,"p":18607.4},{"s":"sma50","i":136,"p":18594.7},{"s":"sma50","i":138,"p":18585.9},{"s":"sma50","i":141,"p":18570.8},{"s":"sma50","i":146,"p":18551.9},{"s":"sma50","i":149,"p":18544.3},{"s":"sma50","i":152,"p":18536.7},{"s":"sma50","i":154,"p":18535.5},{"s":"sma50","i":156,"p":18538.5},{"s":"sma50","i":157,"p":18543.0},{"s":"sma50","i":161,"p":18554.9},{"s":"sma50","i":162,"p":18555.6},{"s":"sma50","i":163,"p":18559.4},{"s":"sma50","i":165,"p":18565.7},{"s":"sma50","i":168,"p":18579.6},{"s":"sma50","i":170,"p":18585.9},{"s":"sma50","i":173,"p":18589.7},{"s":"sma50","i":175,"p":18594.7},{"s":"sma50","i":178,"p":18599.0},{"s":"sma50","i":181,"p":18601.5},{"s":"sma50","i":182,"p":18601.0},{"s":"sma50","i":185,"p":18595.5},{"s":"sma50","i":187,"p":18597.3},{"s":"sma50","i":190,"p":18594.0},{"s":"sma50","i":193,"p":18592.0},{"s":"sma50","i":198,"p":18590.4},{"s":"sma50","i":202,"p":18592.2},{"s":"sma50","i":205,"p":18589.7},{"s":"sma50","i":208,"p":18584.6},{"s":"sma50","i":211,"p":18579.1},{"s":"sma50","i":216,"p":18578.4},{"s":"sma50","i":218,"p":18577.3},{"s":"sma50","i":220,"p":18578.1},{"s":"sma50","i":223,"p":18588.4},{"s":"sma50","i":227,"p":18598.5},{"s":"sma50","i":230,"p":18601.8},{"s":"sma50","i":232,"p":18604.8},{"s":"sma50","i":235,"p":18617.4},{"s":"sma50","i":237,"p":18623.2},{"s":"sma50","i":238,"p":18624.5},{"s":"sma50","i":240,"p":18633.1},
{"s":"sma20","i":0,"p":18793.5},{"s":"sma20","i":1,"p":18791.0},{"s":"sma20","i":2,"p":18788.7},{"s":"sma20","i":4,"p":18790.0},{"s":"sma20","i":6,"p":18788.0},{"s":"sma20","i":8,"p":18790.0},{"s":"sma20","i":10,"p":18786.4},{"s":"sma20","i":12,"p":18773.8},{"s":"sma20","i":14,"p":18763.7},{"s":"sma20","i":16,"p":18756.2},{"s":"sma20","i":19,"p":18752.4},{"s":"sma20","i":20,"p":18750.4},{"s":"sma20","i":21,"p":18750.4},{"s":"sma20","i":23,"p":18754.9},{"s":"sma20","i":25,"p":18758.7},{"s":"sma20","i":27,"p":18763.7},{"s":"sma20","i":28,"p":18761.7},{"s":"sma20","i":29,"p":18759.2},{"s":"sma20","i":31,"p":18760.5},{"s":"sma20","i":33,"p":18754.9},{"s":"sma20","i":36,"p":18743.6},{"s":"sma20","i":38,"p":18732.2},{"s":"sma20","i":40,"p":18719.6},{"s":"sma20","i":42,"p":18704.5},{"s":"sma20","i":44,"p":18695.6},{"s":"sma20","i":45,"p":18690.6},{"s":"sma20","i":47,"p":18679.2},{"s":"sma20","i":48,"p":18675.0},{"s":"sma20","i":50,"p":18672.9},{"s":"sma20","i":51,"p":18673.4},{"s":"sma20","i":52,"p":18678.0},{"s":"sma20","i":54,"p":18689.3},{"s":"sma20","i":56,"p":18696.4},{"s":"sma20","i":60,"p":18710.8},{"s":"sma20","i":62,"p":18727.2},{"s":"sma20","i":65,"p":18741.0},{"s":"sma20","i":67,"p":18754.9},{"s":"sma20","i":69,"p":18766.3},{"s":"sma20","i":72,"p":18782.7},{"s":"sma20","i":74,"p":18791.5},{"s":"sma20","i":76,"p":18800.3},{"s":"sma20","i":78,"p":18812.9},{"s":"sma20","i":81,"p":18830.6},{"s":"sma20","i":84,"p":18844.5},{"s":"sma20","i":86,"p":18848.2},{"s":"sma20","i":88,"p":18843.2},{"s":"sma20","i":89,"p":18838.9},{"s":"sma20","i":92,"p":18819.2},{"s":"sma20","i":93,"p":18810.4},{"s":"sma20","i":95,"p":18800.3},{"s":"sma20","i":97,"p":18785.2},{"s":"sma20","i":99,"p":18767.5},{"s":"sma20","i":101,"p":18751.1},{"s":"sma20","i":103,"p":18725.9},{"s":"sma20","i":105,"p":18702.0},{"s":"sma20","i":107,"p":18676.7},{"s":"sma20","i":108,"p":18669.2},{"s":"sma20","i":109,"p":18659.1},{"s":"sma20","i":112,"p":18633.8},{"s":"sma20","i":113,"p":18627.5},{"s":"sma20","i":114,"p":18618.7},{"s":"sma20","i":115,"p":18606.1},{"s":"sma20","i":117,"p":18585.9},{"s":"sma20","i":119,"p":18563.2},{"s":"sma20","i":120,"p":18553.1},{"s":"sma20","i":121,"p":18541.8},{"s":"sma20","i":123,"p":18531.7},{"s":"sma20","i":126,"p":18518.8},{"s":"sma20","i":127,"p":18520.1},{"s":"sma20","i":130,"p":18520.3},{"s":"sma20","i":134,"p":18521.6},{"s":"sma20","i":135,"p":18521.3},{"s":"sma20","i":137,"p":18522.9},{"s":"sma20","i":138,"p":18526.6},{"s":"sma20","i":140,"p":18534.2},{"s":"sma20","i":141,"p":18535.7},{"s":"sma20","i":145,"p":18536.0},{"s":"sma20","i":147,"p":18537.0},{"s":"sma20","i":149,"p":18537.0},{"s":"sma20","i":151,"p":18534.2},{"s":"sma20","i":153,"p":18532.2},{"s":"sma20","i":154,"p":18538.0},{"s":"sma20","i":156,"p":18553.1},{"s":"sma20","i":158,"p":18570.8},{"s":"sma20","i":160,"p":18588.4},{"s":"sma20","i":162,"p":18606.1},{"s":"sma20","i":163,"p":18616.2},{"s":"sma20","i":166,"p":18636.4},{"s":"sma20","i":168,"p":18654.0},{"s":"sma20","i":169,"p":18659.1},{"s":"sma20","i":170,"p":18663.6},{"s":"sma20","i":173,"p":18666.6},{"s":"sma20","i":175,"p":18665.4},{"s":"sma20","i":177,"p":18655.3},{"s":"sma20","i":180,"p":18641.4},{"s":"sma20","i":182,"p":18634.3},{"s":"sma20","i":183,"p":18618.7},{"s":"sma20","i":185,"p":18598.5},{"s":"sma20","i":187,"p":18575.8},{"s":"sma20","i":190,"p":18555.6},{"s":"sma20","i":193,"p":18541.8},{"s":"sma20","i":195,"p":18529.2},{"s":"sma20","i":198,"p":18517.8},{"s":"sma20","i":200,"p":18512.3},{"s":"sma20","i":202,"p":18509.5},{"s":"sma20","i":203,"p":18512.8},{"s":"sma20","i":205,"p":18526.2},{"s":"sma20","i":207,"p":18538.5},{"s":"sma20","i":208,"p":18539.8},{"s":"sma20","i":209,"p":18545.6},{"s":"sma20","i":210,"p":18555.6},{"s":"sma20","i":214,"p":18588.4},{"s":"sma20","i":215,"p":18597.3},{"s":"sma20","i":217,"p":18612.4},{"s":"sma20","i":219,"p":18625.0},{"s":"sma20","i":220,"p":18629.3},{"s":"sma20","i":221,"p":18637.6},{"s":"sma20","i":223,"p":18659.1},{"s":"sma20","i":225,"p":18678.0},{"s":"sma20","i":227,"p":18686.3},{"s":"sma20","i":229,"p":18693.9},{"s":"sma20","i":231,"p":18697.7},{"s":"sma20","i":232,"p":18698.2},{"s":"sma20","i":234,"p":18698.2},{"s":"sma20","i":236,"p":18695.1},{"s":"sma20","i":238,"p":18693.4},{"s":"sma20","i":240,"p":18692.4}
],
"circles":[
{"e":1,"k":0,"i":170.9,"p":18712.0},{"e":1,"k":1,"i":169.88,"p":18734.05},{"e":1,"k":2,"i":167.1,"p":18750.2},{"e":1,"k":3,"i":163.3,"p":18756.1},{"e":1,"k":4,"i":159.5,"p":18750.2},{"e":1,"k":5,"i":156.72,"p":18734.05},{"e":1,"k":6,"i":155.7,"p":18712.0},{"e":1,"k":7,"i":156.72,"p":18689.95},{"e":1,"k":8,"i":159.5,"p":18673.8},{"e":1,"k":9,"i":163.3,"p":18667.9},{"e":1,"k":10,"i":167.1,"p":18673.8},{"e":1,"k":11,"i":169.88,"p":18689.95},
{"e":2,"k":0,"i":210.6,"p":18658.6},{"e":2,"k":1,"i":210.12,"p":18668.2},{"e":2,"k":2,"i":208.8,"p":18675.2},{"e":2,"k":3,"i":207,"p":18677.8},{"e":2,"k":4,"i":205.2,"p":18675.2},{"e":2,"k":5,"i":203.88,"p":18668.2},{"e":2,"k":6,"i":203.4,"p":18658.6},{"e":2,"k":7,"i":203.88,"p":18649.0},{"e":2,"k":8,"i":205.2,"p":18642.0},{"e":2,"k":9,"i":207,"p":18639.4},{"e":2,"k":10,"i":208.8,"p":18642.0},{"e":2,"k":11,"i":210.12,"p":18649.0},
{"e":3,"k":0,"i":222.6,"p":18667.9},{"e":3,"k":1,"i":221.86,"p":18683.3},{"e":3,"k":2,"i":219.85,"p":18694.6},{"e":3,"k":3,"i":217.1,"p":18698.7},{"e":3,"k":4,"i":214.35,"p":18694.6},{"e":3,"k":5,"i":212.34,"p":18683.3},{"e":3,"k":6,"i":211.6,"p":18667.9},{"e":3,"k":7,"i":212.34,"p":18652.5},{"e":3,"k":8,"i":214.35,"p":18641.2},{"e":3,"k":9,"i":217.1,"p":18637.1},{"e":3,"k":10,"i":219.85,"p":18641.2},{"e":3,"k":11,"i":221.86,"p":18652.5},
{"e":4,"k":0,"i":244.8,"p":18660.3},{"e":4,"k":1,"i":243.34,"p":18683.4},{"e":4,"k":2,"i":239.35,"p":18700.3},{"e":4,"k":3,"i":233.9,"p":18706.5},{"e":4,"k":4,"i":228.45,"p":18700.3},{"e":4,"k":5,"i":224.46,"p":18683.4},{"e":4,"k":6,"i":223,"p":18660.3},{"e":4,"k":7,"i":224.46,"p":18637.2},{"e":4,"k":8,"i":228.45,"p":18620.3},{"e":4,"k":9,"i":233.9,"p":18614.1},{"e":4,"k":10,"i":239.35,"p":18620.3},{"e":4,"k":11,"i":243.34,"p":18637.2}
]
},
"layer":[
{"data":{"name":"candles"},"mark":{"type":"rule","strokeWidth":1.1},
"encoding":{
"x":{"field":"i","type":"quantitative","scale":{"domain":[-0.899,268.88],"nice":false,"zero":false},
"axis":{"title":null,"grid":false,"ticks":false,"domain":false,"values":[0,20,40,60,80,100,120,140,160,180,200,220,240,260],"labelAlign":"left","labelPadding":0,"labelFont":"Roboto","labelFontSize":11.8,"labelColor":"#444444","labelOverlap":false,"labelBound":false,"labelFlush":false,"zindex":1,
"labelExpr":"['22.05.2024\u00a0\u00a007:00','23.05\u00a0\u00a007:00','24.05\u00a0\u00a007:00','27.05\u00a0\u00a007:00','28.05\u00a0\u00a007:00','29.05\u00a0\u00a007:00','30.05\u00a0\u00a007:00','31.05\u00a0\u00a007:00','03.06\u00a0\u00a007:00','04.06\u00a0\u00a007:00','05.06\u00a0\u00a007:00','06.06\u00a0\u00a007:00','07.06\u00a0\u00a007:00','08.06\u00a0\u00a003:00'][datum.value/20]"}},
"y":{"field":"l","type":"quantitative","scale":{"domain":[18382.9,18961.75],"nice":false,"zero":false},
"axis":{"title":null,"orient":"right","grid":false,"ticks":false,"domain":false,"values":[18919.6,18891.5,18863.3,18835.1,18807.0,18778.8,18750.6,18722.5,18694.3,18667.3,18638.0,18609.8,18581.6,18553.5,18525.3,18497.1,18469.0,18440.8,18412.7,18384.5],"format":".1f","labelPadding":6.7,"labelAlign":"left","labelFont":"Roboto","labelFontSize":11.7,"labelOverlap":false,"labelBound":false,"labelFlush":false,"zindex":1,
"labelColor":{"condition":{"test":"datum.value==18667.3","value":"#ffffff"},"value":"#4d4d4d"},
"labelOffset":{"condition":{"test":"datum.value<18385","value":-5},"value":0}}},
"y2":{"field":"h"},
"color":{"condition":{"test":"datum.c>=datum.o","value":"#007a52"},"value":"#d10000"}}},
{"data":{"name":"candles"},"mark":{"type":"bar","size":5},
"encoding":{
"x":{"field":"i","type":"quantitative"},
"y":{"field":"o","type":"quantitative"},
"y2":{"field":"c"},
"color":{"condition":{"test":"datum.c>=datum.o","value":"#007a52"},"value":"#d10000"}}},
{"data":{"name":"lines"},"mark":{"type":"line","strokeWidth":1.2},
"encoding":{"x":{"field":"i","type":"quantitative"},"y":{"field":"p","type":"quantitative"},
"color":{"field":"s","type":"nominal","legend":null,"scale":{"domain":["bbU","bbL","sma200","sma50","sma20"],"range":["#7855c9","#7855c9","#444b90","#2f936f","#a31432"]}}}},
{"data":{"values":[{"i":-0.6,"p":18667.3},{"i":268,"p":18667.3}]},"mark":{"type":"line","stroke":"#45565f","strokeWidth":1.1},
"encoding":{"x":{"field":"i","type":"quantitative"},"y":{"field":"p","type":"quantitative"}}},
{"data":{"values":[{"i":269.1,"i2":276.97,"p":18674.2,"p2":18661.6}]},"mark":{"type":"rect","fill":"#45545f"},
"encoding":{"x":{"field":"i","type":"quantitative"},"x2":{"field":"i2"},"y":{"field":"p","type":"quantitative"},"y2":{"field":"p2"}}},
{"data":{"values":[{"i":269.1,"p":18667.9}]},"mark":{"type":"point","shape":"M-1 0L0 -1L0 1Z","size":256,"filled":true,"fill":"#45545f","opacity":1},
"encoding":{"x":{"field":"i","type":"quantitative"},"y":{"field":"p","type":"quantitative"}}},
{"data":{"values":[{"i":127.9,"i2":138.1,"p":18837.6,"p2":18785.7}]},"mark":{"type":"rect","fill":"#f93241","cornerRadius":1},
"encoding":{"x":{"field":"i","type":"quantitative"},"x2":{"field":"i2"},"y":{"field":"p","type":"quantitative"},"y2":{"field":"p2"}}},
{"data":{"values":[{"i":133.1,"p":18811.4}]},"mark":{"type":"point","shape":"M-0.91 -0.24L-0.18 -0.38L0.01 -0.23L0.89 -0.59L0.37 -0.04L1 0.6L0.24 0.32L-0.29 0.38L-1 0.23L-0.29 -0.04Z","size":3600,"filled":true,"fill":"#ffffff","opacity":1},
"encoding":{"x":{"field":"i","type":"quantitative"},"y":{"field":"p","type":"quantitative"}}},
{"data":{"values":[{"i":139.9,"p":18803.6,"t":"xtb"}]},"mark":{"type":"text","align":"left","baseline":"alphabetic","font":"Liberation Sans","fontWeight":"bold","fontSize":66,"fill":"#000000","stroke":"#000000","strokeWidth":1},
"encoding":{"x":{"field":"i","type":"quantitative"},"y":{"field":"p","type":"quantitative"},"text":{"field":"t"}}},
{"data":{"values":[{"i":139.9,"p":18794.0,"t":"online investing"}]},"mark":{"type":"text","align":"left","baseline":"middle","font":"Roboto","fontWeight":300,"fontSize":14,"fill":"#111111"},
"encoding":{"x":{"field":"i","type":"quantitative"},"y":{"field":"p","type":"quantitative"},"text":{"field":"t"}}},
{"data":{"values":[{"i":17.1,"i2":23.7,"p":18953.4,"p2":18942.8}]},"mark":{"type":"rect","fill":"#ffffff","stroke":"#e2e2e2","strokeWidth":1,"cornerRadius":1},
"encoding":{"x":{"field":"i","type":"quantitative"},"x2":{"field":"i2"},"y":{"field":"p","type":"quantitative"},"y2":{"field":"p2"}}},
{"data":{"values":[{"i":11.1,"p":18948.9},{"i":22.5,"p":18948.9}]},"mark":{"type":"point","shape":"triangle-down","size":28,"filled":true,"fill":"#8c8c8c","opacity":1},
"encoding":{"x":{"field":"i","type":"quantitative"},"y":{"field":"p","type":"quantitative"}}},
{"data":{"values":[{"i":2.1,"p":18947.1,"t":"DE40"}]},"mark":{"type":"text","align":"left","baseline":"middle","font":"Roboto","fontWeight":"bold","fontSize":12,"fill":"#444444"},
"encoding":{"x":{"field":"i","type":"quantitative"},"y":{"field":"p","type":"quantitative"},"text":{"field":"t"}}},
{"data":{"values":[{"i":6.9,"p":18947.1,"t":"CFD"}]},"mark":{"type":"text","align":"left","baseline":"middle","font":"Roboto","fontSize":8,"fill":"#777777"},
"encoding":{"x":{"field":"i","type":"quantitative"},"y":{"field":"p","type":"quantitative"},"text":{"field":"t"}}},
{"data":{"values":[{"i":17.8,"p":18946.6,"t":"H1"}]},"mark":{"type":"text","align":"left","baseline":"middle","font":"Roboto","fontSize":11,"fill":"#777777"},
"encoding":{"x":{"field":"i","type":"quantitative"},"y":{"field":"p","type":"quantitative"},"text":{"field":"t"}}},
{"data":{"values":[{"i":3.75,"p":18421.5,"t":"Bollinger\u00a0\u00a0[20,\u00a02]\u00a018773.4,\u00a0\u00a018692.2,\u00a0\u00a018611.0"},{"i":3.75,"p":18410.9,"t":"SMA\u00a0[20,\u00a00]\u00a018692.2"},{"i":3.75,"p":18400.3,"t":"SMA\u00a0[200,\u00a00]\u00a018644.3"},{"i":3.75,"p":18389.7,"t":"SMA\u00a0[50,\u00a00]\u00a018632.5"}]},"mark":{"type":"text","align":"left","baseline":"middle","font":"Roboto","fontSize":10.5,"fill":"#858585"},
"encoding":{"x":{"field":"i","type":"quantitative"},"y":{"field":"p","type":"quantitative"},"text":{"field":"t"}}},
{"data":{"values":[{"i":0.75,"p":18422.2,"t":"\u2630"},{"i":0.75,"p":18411.6,"t":"\u2630"},{"i":0.75,"p":18401.0,"t":"\u2630"},{"i":0.75,"p":18390.4,"t":"\u2630"},{"i":2.7,"p":18422.2,"t":"\u2716"},{"i":2.7,"p":18411.6,"t":"\u2716"},{"i":2.7,"p":18401.0,"t":"\u2716"},{"i":2.7,"p":18390.4,"t":"\u2716"}]},"mark":{"type":"text","align":"center","baseline":"middle","font":"DejaVu Sans","fontSize":10,"fill":"#ababab"},
"encoding":{"x":{"field":"i","type":"quantitative"},"y":{"field":"p","type":"quantitative"},"text":{"field":"t"}}},
{"data":{"values":[{"i":257.4,"p":18399.8,"t":"26"},{"i":262.3,"p":18399.8,"t":"31"}]},"mark":{"type":"text","align":"left","baseline":"middle","font":"Roboto","fontSize":14,"fill":"#ffa033"},
"encoding":{"x":{"field":"i","type":"quantitative"},"y":{"field":"p","type":"quantitative"},"text":{"field":"t"}}},
{"data":{"values":[{"i":260.2,"p":18399.8,"t":"m"},{"i":264.9,"p":18399.8,"t":"Sek"}]},"mark":{"type":"text","align":"left","baseline":"middle","font":"Roboto","fontSize":14,"fill":"#c4c4c4"},
"encoding":{"x":{"field":"i","type":"quantitative"},"y":{"field":"p","type":"quantitative"},"text":{"field":"t"}}},
{"data":{"values":[{"t":"top","i":82.5,"p":18915.3},{"t":"top","i":267.2,"p":18787.0},{"t":"a","i":120,"p":18434.1},{"t":"a","i":266.3,"p":18434.1},{"t":"b","i":184.7,"p":18402.3},{"t":"b","i":265,"p":18402.3}]},"mark":{"type":"line","stroke":"#f01a2a","strokeWidth":3.2},
"encoding":{"x":{"field":"i","type":"quantitative"},"y":{"field":"p","type":"quantitative"},"detail":{"field":"t"}}},
{"data":{"values":[{"t":"c","i":241.2,"p":18694.4},{"t":"c","i":251.3,"p":18694.4},{"t":"d","i":241.5,"p":18645.2},{"t":"d","i":251,"p":18645.2}]},"mark":{"type":"line","stroke":"#f01a2a","strokeWidth":4.7,"strokeCap":"round"},
"encoding":{"x":{"field":"i","type":"quantitative"},"y":{"field":"p","type":"quantitative"},"detail":{"field":"t"}}},
{"data":{"name":"circles"},"mark":{"type":"line","stroke":"#3f4bd1","strokeWidth":3,"interpolate":"cardinal-closed"},
"encoding":{"x":{"field":"i","type":"quantitative"},"y":{"field":"p","type":"quantitative"},"detail":{"field":"e"},"order":{"field":"k"}}}
]
}
